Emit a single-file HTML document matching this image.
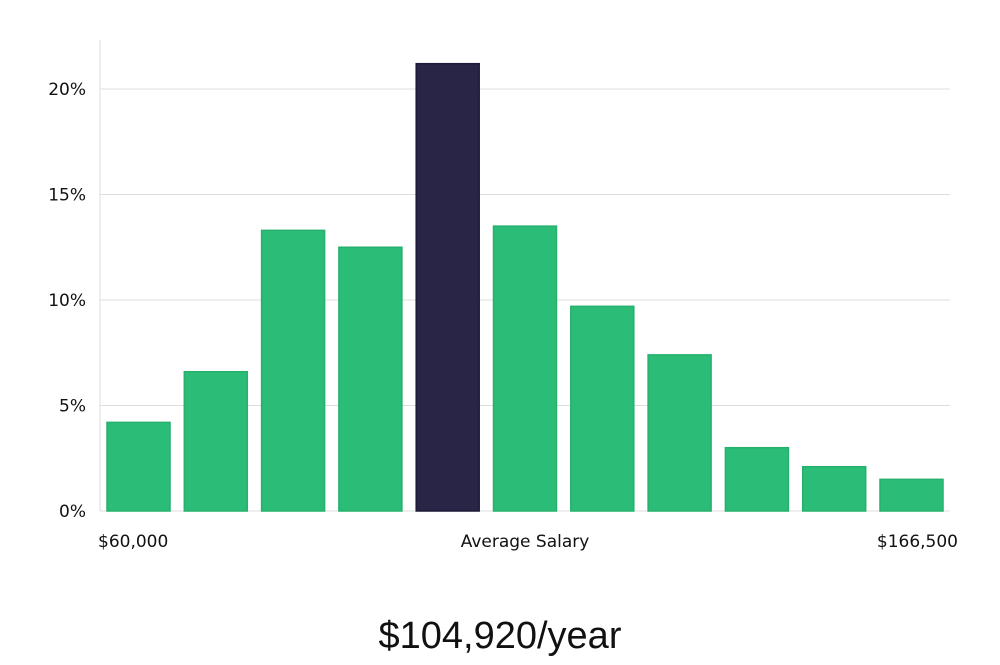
<!DOCTYPE html>
<html><head><meta charset="utf-8"><style>
body{margin:0;background:#fff;width:1000px;height:660px;overflow:hidden}
svg text{font-family:"DejaVu Sans","Liberation Sans",sans-serif;fill:#111}
</style></head><body>
<svg id="chart" width="1000" height="660" xmlns="http://www.w3.org/2000/svg">
<g id="grid"></g><g id="bars"></g><g id="labels"></g>
<text x="500" y="648" text-anchor="middle" style="font-family:'Liberation Sans',sans-serif;font-size:38px;fill:#111">$104,920/year</text>
</svg>
<script>
const values=[4.2,6.6,13.3,12.5,21.2,13.5,9.7,7.4,3.0,2.1,1.5];
const highlight=[false,false,false,false,true,false,false,false,false,false,false];
const yTicks=[0,5,10,15,20];
const xLabels=["$60,000","Average Salary","$166,500"];
const NS="http://www.w3.org/2000/svg";
const x0=100,x1=950,y0=511,pxPer=(511-89)/20;
const y=v=>y0-v*pxPer;
const step=(942-107)/(values.length-0.185);
const bw=63;
const bx=i=>107+i*77.3;
function mk(t,a,p){const e=document.createElementNS(NS,t);for(const k in a)e.setAttribute(k,a[k]);p.appendChild(e);return e;}
const grid=document.getElementById('grid'),bars=document.getElementById('bars'),labels=document.getElementById('labels');
const ax=mk('line',{x1:x0,x2:x0,y1:40,y2:y0,stroke:'#ddd','stroke-width':1},grid);


yTicks.forEach(t=>{
 const l=mk('line',{x1:x0,x2:x1,y1:y(t),y2:y(t),stroke:'#ddd','stroke-width':1},grid);
 
 
 const tx=mk('text',{x:86,y:y(t)+6,'text-anchor':'end','font-size':17},labels);
 tx.textContent=t+'%';
 
 
});
values.forEach((v,i)=>{
 const r=mk('rect',{x:bx(i),y:y(v),width:bw,height:y0-y(v),fill:highlight[i]?'#282546':'#2bbd77',stroke:highlight[i]?'#1c1a38':'#25b06c','stroke-width':1.5},bars);
 
 
});
const pos=[[98,'start'],[525,'middle'],[958,'end']];
xLabels.forEach((s,i)=>{
 const t=mk('text',{x:pos[i][0],y:547,'text-anchor':pos[i][1],'font-size':17},labels);
 t.textContent=s;
 
 
});
</script>
</body></html>
